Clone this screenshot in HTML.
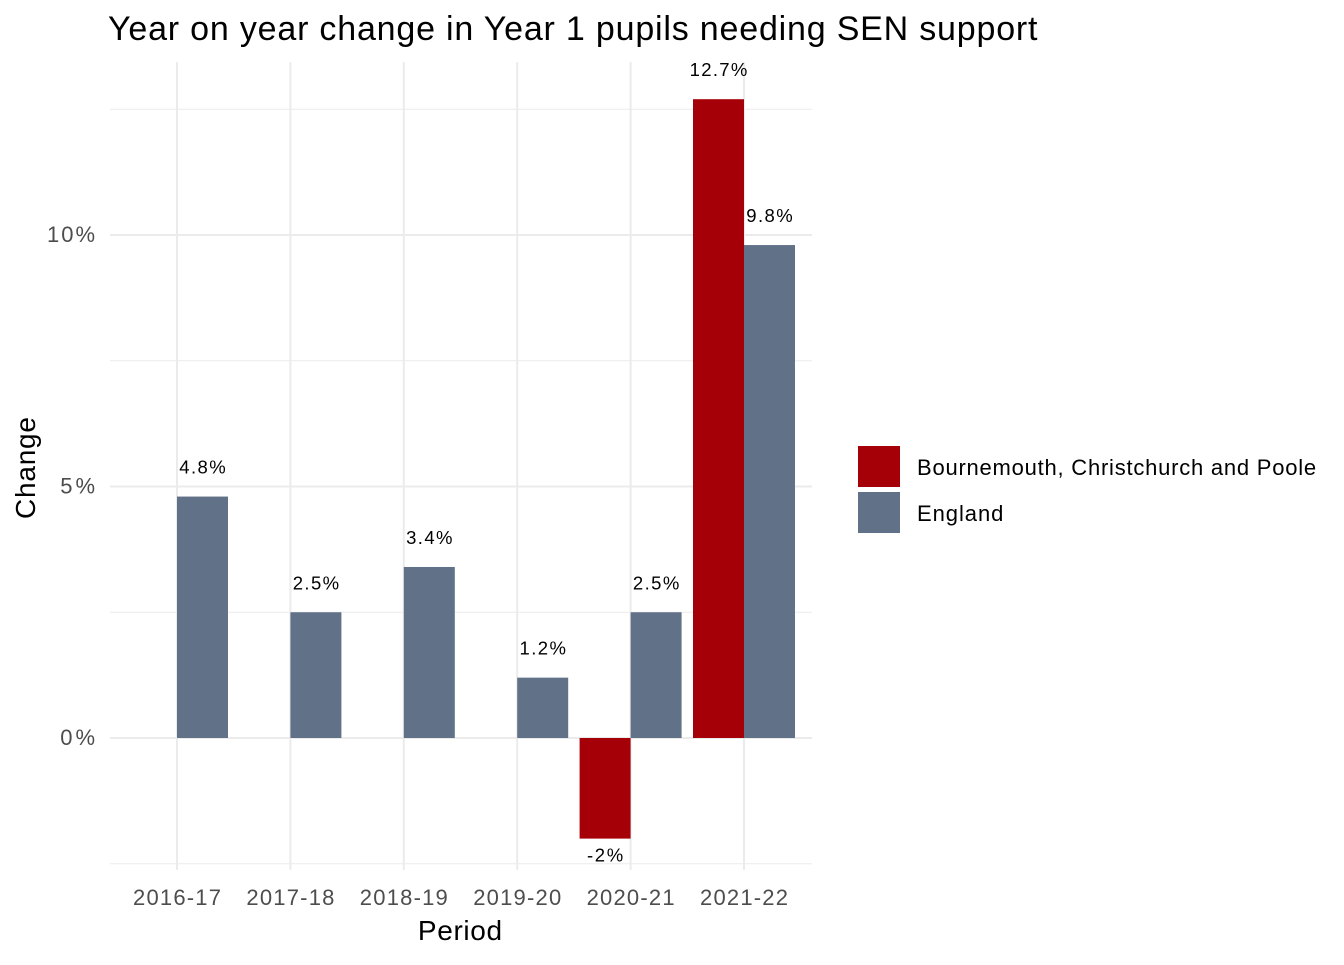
<!DOCTYPE html>
<html><head><meta charset="utf-8"><style>
body{margin:0;background:#fff;font-family:"Liberation Sans",Arial,sans-serif}
</style></head><body>
<svg id="chart" width="1344" height="960" xmlns="http://www.w3.org/2000/svg" font-family="Liberation Sans, Arial, sans-serif">
<text data-scale="1.05" x="108" y="40" font-size="34" fill="#000">Year on year change in Year 1 pupils needing SEN support</text>
<g id="grid"></g><g id="bars"></g><g id="labels"></g>
<text data-scale="1.04" transform="translate(35,468) rotate(-90)" text-anchor="middle" font-size="28">Change</text>
<text data-scale="1.04" x="460" y="940" text-anchor="middle" font-size="28">Period</text>
<rect x="858" y="446" width="42" height="41" fill="#A50008"/>
<text data-scale="1.07" x="917" y="475" font-size="22">Bournemouth, Christchurch and Poole</text>
<rect x="858" y="492" width="42" height="41" fill="#617188"/>
<text data-scale="1.07" x="917" y="521" font-size="22">England</text>
</svg>
<script>
const categories=["2016-17","2017-18","2018-19","2019-20","2020-21","2021-22"];
const bcpValues=[null,null,null,null,-2,12.7];
const englandValues=[4.8,2.5,3.4,1.2,2.5,9.8];
const yTicks=[0,5,10];
const yTickLabels=["0%","5%","10%"];
const yMinor=[-2.5,2.5,7.5,12.5];
const NS="http://www.w3.org/2000/svg";
const y=v=>738-v*50.3;
const x=i=>177+i*113.4;
const L=110,R=812,T=62,B=870,bw=51;
function mk(tag,attrs,parent,text){const e=document.createElementNS(NS,tag);for(const k in attrs)e.setAttribute(k,attrs[k]);if(text!==undefined)e.textContent=text;document.getElementById(parent).appendChild(e);return e;}
yMinor.forEach(v=>{const e=mk('line',{x1:L,x2:R,y1:y(v),y2:y(v),stroke:'#ebebeb','stroke-width':1},'grid');

});
yTicks.forEach((v,i)=>{const e=mk('line',{x1:L,x2:R,y1:y(v),y2:y(v),stroke:'#ebebeb','stroke-width':2},'grid');


const t=mk('text',{x:95,y:y(v)+7,'text-anchor':'end','font-size':22,fill:'#4d4d4d','data-scale':1.09},'grid',yTickLabels[i]);

});
categories.forEach((c,i)=>{const e=mk('line',{x1:x(i),x2:x(i),y1:T,y2:B,stroke:'#ebebeb','stroke-width':2},'grid');


const t=mk('text',{x:x(i),y:905,'text-anchor':'middle','font-size':22,fill:'#4d4d4d','data-scale':1.09},'grid',c);

});
function bar(v,i,left,color,name){
 if(v===null)return;
 const x0=left?x(i)-bw:x(i);
 const r=mk('rect',{x:x0,y:Math.min(y(v),y(0)),width:bw,height:Math.abs(y(v)-y(0)),fill:color},'bars');
 
 
 const ly=v>=0?y(v)-23:y(v)+23;
 const t=mk('text',{x:x0+bw/2,y:ly,'text-anchor':'middle','font-size':18.5,fill:'#000','data-scale':1.1},'labels',v+'%');
 
 
}
categories.forEach((c,i)=>{bar(bcpValues[i],i,true,'#A50008','bar-bcp-'+c);bar(englandValues[i],i,false,'#617188','bar-england-'+c);});
document.querySelectorAll('text[data-scale]').forEach(t=>{const w=t.getComputedTextLength();t.setAttribute('textLength',(w*parseFloat(t.getAttribute('data-scale'))).toFixed(1));});
</script>
</body></html>
